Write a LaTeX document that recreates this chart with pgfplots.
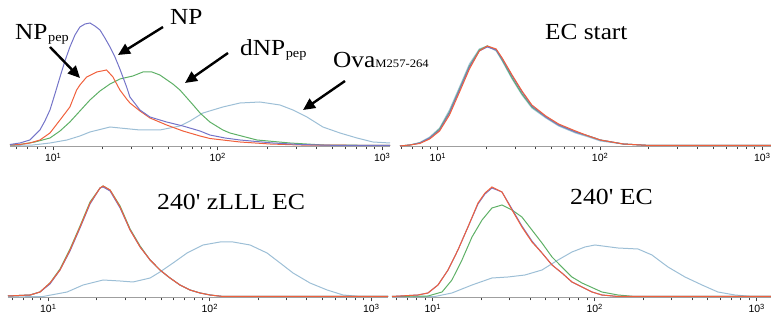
\documentclass[border=0pt]{standalone}
\usepackage{pgfplots}
\pgfplotsset{compat=1.18}
\usepackage{fontspec}
\setmainfont{Liberation Serif}
\setsansfont{Liberation Sans}
\usetikzlibrary{arrows.meta}
\definecolor{cNP}{HTML}{7474C8}
\definecolor{cPep}{HTML}{F0603C}
\definecolor{cDNP}{HTML}{5EB066}
\definecolor{cOva}{HTML}{9DBFD6}
\newcommand{\dec}[1]{10\raisebox{3.5pt}{\fontsize{7.5}{8}\selectfont #1}}
\pgfplotsset{hist/.style={
  scale only axis, anchor=south west,
  axis x line=bottom, axis y line=none,
  x axis line style={-, draw=gray!75, line width=1pt},
  xtick={1,2,3},
  xticklabels={\dec{1},\dec{2},\dec{3}},
  minor xtick={0.778,0.845,0.903,0.954,1.301,1.477,1.602,1.699,1.778,1.845,1.903,1.954,2.301,2.477,2.602,2.699,2.778,2.845,2.903,2.954},
  tick align=outside, major tick length=3.5pt, minor tick length=2.5pt,
  every tick/.style={black!75, line width=0.7pt},
  xticklabel style={font=\sffamily\fontsize{10.5}{11}\selectfont, inner sep=1pt, yshift=-1.5pt},
  ymin=0, clip=false,
  every axis plot/.append style={line width=1pt, no markers},
}}
\newcommand{\bigtxt}[1]{\fontsize{23}{23}\selectfont #1}
\begin{document}
\begin{tikzpicture}
\useasboundingbox (0,0) rectangle (771pt,328pt);
% ---------------- top left
\begin{axis}[hist, at={(10pt,181pt)}, width=380pt, height=137pt, xmin=0.739, xmax=3.049, ymax=137]
\addplot[cOva] coordinates {(0.739,1.5)(0.878,2)(0.982,4)(1.085,7)(1.164,11)(1.225,15)(1.347,20)(1.407,19)(1.529,17)(1.650,17)(1.772,21)(1.833,26)(1.912,34)(2.033,40)(2.137,44)(2.258,45)(2.380,42)(2.459,37)(2.544,30)(2.641,20)(2.745,14)(2.848,9)(2.945,5)(3.049,4)};
\addplot[cDNP] coordinates {(0.739,2)(0.799,2.5)(0.891,5)(0.982,9)(1.043,16)(1.103,25)(1.164,36)(1.225,47)(1.286,56)(1.347,63)(1.407,68)(1.486,71)(1.547,75)(1.602,75)(1.650,72)(1.729,63)(1.772,57)(1.815,49)(1.863,40)(1.894,34)(1.954,25)(2.033,17)(2.076,14)(2.240,7)(2.441,4)(2.641,2)(3.049,1.5)};
\addplot[cPep] coordinates {(0.739,2)(0.799,2.5)(0.860,4)(0.921,7)(0.982,14)(1.043,27)(1.103,40)(1.144,57)(1.164,62)(1.205,70)(1.266,75)(1.326,77)(1.365,70)(1.407,57)(1.448,48)(1.468,44)(1.529,36)(1.590,29)(1.691,22)(1.790,16)(1.894,11)(1.954,8.5)(2.137,5)(2.319,3)(2.502,2)(3.049,1.5)};
\addplot[cNP] coordinates {(0.739,2.5)(0.799,4)(0.860,7)(0.921,17)(0.951,26)(0.982,37)(1.012,53)(1.043,70)(1.073,86)(1.103,100)(1.134,112)(1.164,120)(1.195,123)(1.225,124)(1.255,121)(1.286,117)(1.316,109)(1.347,100)(1.377,90)(1.407,78)(1.448,60)(1.468,50)(1.529,37)(1.590,30)(1.691,25)(1.790,21)(1.894,16)(1.954,12)(2.046,9)(2.137,7)(2.337,4)(2.502,2.5)(2.745,1.5)(3.049,1.5)};
\end{axis}
% ---------------- top right
\begin{axis}[hist, at={(400pt,181pt)}, width=371pt, height=137pt, xmin=0.768, xmax=3.055, ymax=137]
\addplot[cOva] coordinates {(0.768,1)(0.829,2)(0.890,4.5)(0.951,10)(1.012,19)(1.073,37)(1.135,60)(1.196,83)(1.257,98)(1.306,101)(1.361,96)(1.398,86)(1.459,68)(1.520,52)(1.581,39)(1.667,29)(1.746,21)(1.850,14)(1.930,10)(2.003,6)(2.144,3)(2.309,1.5)(3.055,1.5)};
\addplot[cDNP] coordinates {(0.768,1)(0.829,2)(0.890,4)(0.951,9)(1.012,18)(1.073,35)(1.135,58)(1.196,81)(1.257,97)(1.306,101)(1.361,97)(1.398,87)(1.459,69)(1.520,53)(1.581,40)(1.667,30)(1.746,22)(1.850,15)(1.930,11)(2.003,7)(2.144,3)(2.309,1.5)(3.055,1.5)};
\addplot[cNP] coordinates {(0.768,1)(0.829,2)(0.890,4)(0.951,9)(1.012,17)(1.073,34)(1.135,57)(1.196,80)(1.257,96)(1.306,100)(1.361,97)(1.398,88)(1.459,71)(1.520,55)(1.581,41)(1.667,30)(1.746,22)(1.850,15)(1.930,11)(2.003,7)(2.144,3)(2.309,1.5)(3.055,1.5)};
\addplot[cPep] coordinates {(0.768,1)(0.829,2)(0.890,3.5)(0.951,8)(1.012,16)(1.073,32)(1.135,55)(1.196,78)(1.257,96)(1.306,101)(1.361,98)(1.398,89)(1.459,72)(1.520,56)(1.581,42)(1.667,31)(1.746,23)(1.850,16)(1.930,11)(2.003,7)(2.144,3)(2.309,1.5)(3.055,1.5)};
\end{axis}
% ---------------- bottom left
\begin{axis}[hist, at={(8pt,30pt)}, width=380pt, height=128pt, xmin=0.752, xmax=3.105, ymax=128]
\addplot[cOva] coordinates {(0.752,1)(0.969,1.5)(1.118,6)(1.217,13)(1.341,18)(1.446,17)(1.526,16)(1.632,20)(1.693,26)(1.774,35)(1.861,45)(1.960,53)(2.065,56)(2.146,56)(2.251,53)(2.356,45)(2.437,35)(2.517,25)(2.622,15)(2.728,8)(2.827,3)(2.932,1.5)(3.105,1.5)};
\addplot[cDNP] coordinates {(0.752,2)(0.889,3)(0.950,6)(1.012,15)(1.074,29)(1.136,49)(1.198,72)(1.260,96)(1.322,110)(1.341,112)(1.384,108)(1.446,92)(1.508,69)(1.570,52)(1.632,38)(1.693,28)(1.755,20)(1.817,13)(1.879,8)(1.941,5)(2.003,3)(2.084,1.5)(3.105,1.5)};
\addplot[cNP] coordinates {(0.752,2)(0.889,3)(0.950,6)(1.012,14)(1.074,28)(1.136,47)(1.198,70)(1.260,94)(1.322,110)(1.341,111)(1.384,107)(1.446,90)(1.508,68)(1.570,51)(1.632,38)(1.693,28)(1.755,20)(1.817,13)(1.879,8)(1.941,5)(2.003,3)(2.084,1.5)(3.105,1.5)};
\addplot[cPep] coordinates {(0.752,2)(0.889,3)(0.950,6)(1.012,15)(1.074,28)(1.136,48)(1.198,71)(1.260,95)(1.322,110)(1.341,112)(1.384,108)(1.446,91)(1.508,68)(1.570,51)(1.632,38)(1.693,28)(1.755,20)(1.817,13)(1.879,8)(1.941,5)(2.003,3)(2.084,1.5)(3.105,1.5)};
\end{axis}
% ---------------- bottom right
\begin{axis}[hist, at={(392pt,30pt)}, width=379pt, height=128pt, xmin=0.750, xmax=3.090, ymax=128]
\addplot[cOva] coordinates {(0.750,1)(1.015,1.5)(1.120,5)(1.244,13)(1.367,20)(1.466,21)(1.571,23)(1.676,28)(1.775,38)(1.861,46)(1.941,51)(2.003,53)(2.145,50)(2.269,49)(2.355,43)(2.454,31)(2.559,21)(2.664,13)(2.762,6)(2.867,3)(2.972,1.5)(3.090,1.5)};
\addplot[cDNP] coordinates {(0.750,1.5)(0.972,2)(1.059,6)(1.120,18)(1.182,38)(1.244,61)(1.306,78)(1.367,90)(1.429,93)(1.491,88)(1.552,81)(1.614,68)(1.676,55)(1.738,41)(1.799,31)(1.861,21)(1.923,15)(2.046,6)(2.145,3)(2.250,1.5)(3.090,1.5)};
\addplot[cNP] coordinates {(0.750,1.5)(0.910,3)(0.972,5)(1.034,13)(1.096,28)(1.157,48)(1.219,71)(1.281,94)(1.324,104)(1.367,110)(1.429,106)(1.491,89)(1.552,72)(1.614,57)(1.676,45)(1.738,33)(1.799,25)(1.861,16)(1.923,11)(1.985,6)(2.046,3)(2.145,1.5)(3.090,1.5)};
\addplot[cPep] coordinates {(0.750,1.5)(0.910,3)(0.972,5)(1.034,13)(1.096,28)(1.157,48)(1.219,71)(1.281,95)(1.324,105)(1.367,111)(1.429,106)(1.491,88)(1.552,71)(1.614,56)(1.676,45)(1.738,33)(1.799,25)(1.861,16)(1.923,11)(1.985,6)(2.046,3)(2.145,1.5)(3.090,1.5)};
\end{axis}
% ---------------- annotations
\node[anchor=base west, inner sep=0pt, xscale=1.1] at (15pt,288pt) {\bigtxt{NP}\kern0.5pt\raisebox{-1.5pt}{\fontsize{13}{13}\selectfont pep}};
\node[anchor=base west, inner sep=0pt, xscale=1.1] at (170pt,303pt) {\bigtxt{NP}};
\node[anchor=base west, inner sep=0pt, xscale=1.1] at (240pt,272pt) {\bigtxt{dNP}\kern0.5pt\raisebox{-1.5pt}{\fontsize{13}{13}\selectfont pep}};
\node[anchor=base west, inner sep=0pt, xscale=1.1] at (333pt,260pt) {\bigtxt{Ova}{\fontsize{11.5}{12}\selectfont M257-264}};
\node[anchor=base west, inner sep=0pt, xscale=1.1] at (545pt,288pt) {\bigtxt{EC start}};
\node[anchor=base west, inner sep=0pt, xscale=1.12] at (157pt,118pt) {\bigtxt{240\textquotesingle{} zLLL EC}};
\node[anchor=base west, inner sep=0pt, xscale=1.12] at (570pt,123pt) {\bigtxt{240\textquotesingle{} EC}};
\begin{scope}[line width=2.4pt, -{Triangle[length=12pt,width=11pt]}]
\draw (50pt,281pt) -- (80pt,250pt);
\draw (163pt,301pt) -- (118pt,273pt);
\draw (228pt,275pt) -- (185pt,245pt);
\draw (345pt,247pt) -- (303pt,218pt);
\end{scope}
\end{tikzpicture}
\end{document}
